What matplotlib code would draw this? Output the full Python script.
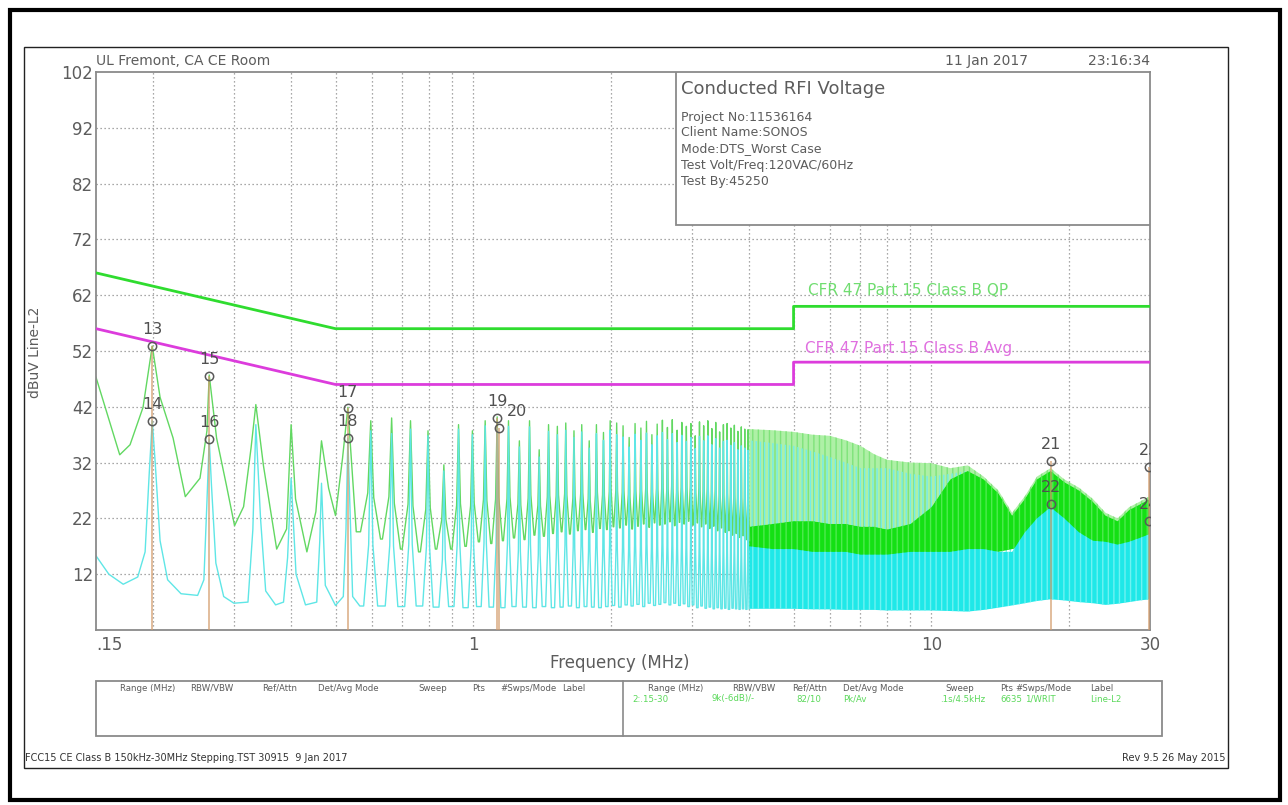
import numpy as np
import matplotlib
matplotlib.use("Agg")
import matplotlib.pyplot as plt
from matplotlib.patches import Rectangle
from matplotlib.ticker import FixedLocator, NullFormatter

plt.rcParams["hatch.linewidth"] = 1.0

# ---------------- data ----------------
# limit lines (MHz, dBuV)
qp_f = [0.15, 0.5, 5.0, 5.0, 30.0]
qp_db = [66.0, 56.0, 56.0, 60.0, 60.0]
av_f = [0.15, 0.5, 5.0, 5.0, 30.0]
av_db = [56.0, 46.0, 46.0, 50.0, 50.0]

# peak-detector trace, low band vertices
pk_low_f = [0.150, 0.169, 0.178, 0.190, 0.199, 0.207, 0.221, 0.235, 0.253, 0.262,
            0.265, 0.275, 0.289, 0.301, 0.315, 0.327, 0.335, 0.348, 0.372, 0.391,
            0.400, 0.409, 0.433, 0.453, 0.466, 0.483, 0.500, 0.518, 0.532, 0.555]
pk_low_db = [47.3, 33.4, 35.2, 41.9, 52.9, 43.7, 36.4, 25.9, 29.2, 37.7,
             47.7, 36.4, 27.9, 20.7, 24.1, 34.6, 42.4, 31.5, 16.5, 20.1,
             38.8, 25.5, 16.0, 23.2, 35.9, 27.4, 22.5, 32.8, 41.9, 19.6]

# average-detector trace, low band vertices
av_low_f = [0.150, 0.160, 0.172, 0.185, 0.192, 0.196, 0.199, 0.202, 0.207, 0.215,
            0.230, 0.250, 0.258, 0.262, 0.265, 0.268, 0.274, 0.285, 0.300, 0.322,
            0.330, 0.335, 0.343, 0.352, 0.370, 0.385, 0.393, 0.400, 0.410, 0.430,
            0.455, 0.462, 0.466, 0.475, 0.500, 0.520, 0.527, 0.532, 0.545, 0.565]
av_low_db = [15.3, 12.0, 10.2, 11.5, 16.0, 30.0, 39.5, 32.0, 18.0, 11.0,
             8.5, 8.2, 11.0, 25.0, 36.2, 28.0, 14.0, 8.0, 6.8, 7.0,
             20.0, 38.8, 22.0, 9.0, 6.5, 7.0, 15.0, 29.2, 12.0, 6.5,
             7.0, 18.0, 28.3, 10.0, 6.4, 8.0, 20.0, 36.4, 8.0, 6.3]

# harmonic lines 0.6 - 4 MHz
harm_f = [0.597, 0.663, 0.729, 0.796, 0.862, 0.928, 0.995, 1.061, 1.127, 1.193,
          1.260, 1.326, 1.392, 1.459, 1.525, 1.591, 1.658, 1.724, 1.790, 1.856,
          1.923, 1.989, 2.055, 2.122, 2.188, 2.254, 2.321, 2.387, 2.453, 2.519,
          2.586, 2.652, 2.718, 2.785, 2.851, 2.917, 2.984, 3.050, 3.116, 3.182,
          3.249, 3.315, 3.381, 3.448, 3.514, 3.580, 3.647, 3.713, 3.779, 3.845,
          3.912, 3.978]
harm_pk_db = [39.5, 40.0, 39.5, 37.7, 31.6, 38.8, 37.7, 39.5, 40.2, 39.5,
              35.9, 39.5, 34.3, 38.8, 38.5, 39.1, 37.7, 38.8, 35.9, 38.8,
              37.4, 39.5, 39.1, 38.6, 36.5, 39.0, 38.2, 39.4, 37.0, 38.9,
              39.6, 38.3, 39.7, 37.8, 39.2, 38.5, 39.0, 36.8, 39.3, 38.6,
              39.5, 38.1, 39.2, 37.5, 38.8, 39.0, 38.2, 38.7, 37.6, 38.4,
              38.0, 37.9]
harm_pk_floor = [18.3, 16.5, 16.0, 16.5, 16.5, 17.0, 17.8, 17.5, 18.0, 18.5,
                 18.2, 19.0, 18.8, 19.3, 19.6, 19.2, 19.8, 20.0, 19.5, 20.2,
                 20.0, 20.5, 20.3, 20.8, 20.1, 20.6, 21.0, 20.4, 21.2, 20.8,
                 21.0, 21.4, 20.7, 21.3, 21.0, 21.5, 20.8, 21.2, 20.5, 21.0,
                 20.2, 20.6, 19.8, 20.3, 19.5, 19.8, 19.0, 19.3, 18.6, 18.9,
                 18.2, 18.0]
harm_av_db = [37.7, 37.2, 38.0, 36.8, 30.5, 38.0, 37.0, 38.6, 38.2, 38.5,
              34.8, 38.4, 33.0, 37.6, 37.0, 37.8, 36.5, 37.5, 34.6, 37.2,
              36.0, 37.8, 37.0, 36.6, 34.8, 37.1, 36.0, 37.3, 35.2, 36.8,
              37.4, 36.1, 37.2, 35.6, 36.9, 35.8, 36.5, 34.5, 36.7, 35.9,
              36.8, 35.2, 36.3, 34.6, 35.8, 36.0, 35.1, 35.6, 34.3, 35.0,
              34.6, 34.2]
harm_av_floor = [6.3, 6.2, 6.3, 6.1, 6.2, 6.0, 6.2, 6.1, 6.0, 6.2,
                 6.1, 6.0, 6.2, 6.0, 6.1, 6.3, 6.0, 6.2, 6.1, 6.0,
                 6.2, 6.4, 6.1, 6.5, 6.3, 6.6, 6.2, 6.8, 6.4, 6.6,
                 6.9, 6.5, 6.8, 6.4, 6.7, 6.2, 6.5, 6.0, 6.3, 5.9,
                 6.1, 5.8, 6.0, 5.8, 5.9, 5.7, 5.9, 5.8, 5.7, 5.8,
                 5.7, 5.8]

# dense band 4 - 30 MHz (envelopes)
band_f = [4.0, 4.5, 5.0, 5.5, 6.0, 6.5, 7.0, 7.5, 8.0, 9.0, 10.0, 11.0, 12.0, 13.0,
          14.0, 15.0, 16.0, 17.0, 18.2, 19.5, 21.0, 22.5, 24.0, 25.5, 27.0, 28.5, 30.0]
pk_band_top = [38.0, 37.8, 37.5, 37.0, 36.8, 36.0, 35.0, 33.5, 32.5, 32.0, 31.9, 31.0, 31.5, 29.5,
               27.0, 23.0, 26.0, 29.5, 31.0, 29.0, 27.5, 25.5, 23.0, 22.0, 24.0, 25.0, 26.0]
pk_band_core = [20.5, 21.0, 21.5, 21.5, 21.0, 21.0, 20.5, 20.5, 20.0, 21.0, 24.0, 29.0, 30.5, 29.0,
                26.5, 22.5, 25.5, 29.0, 30.5, 28.5, 27.0, 25.0, 22.5, 21.5, 23.5, 24.5, 25.5]
pk_band_floor = [16.5, 16.2, 16.0, 15.8, 15.8, 15.5, 15.3, 15.3, 15.3, 15.2, 15.5, 15.8, 16.0, 16.0,
                 16.0, 16.5, 17.0, 17.5, 18.0, 17.5, 17.0, 16.8, 16.5, 16.3, 16.5, 17.0, 17.5]
av_band_top = [36.0, 35.5, 35.0, 34.0, 33.0, 32.0, 31.0, 31.0, 31.0, 30.0, 29.5, 30.0, 30.5, 28.0,
               22.0, 16.5, 20.0, 22.5, 24.6, 22.5, 20.0, 18.5, 18.3, 17.8, 18.3, 19.0, 19.6]
av_band_core = [17.0, 16.5, 16.5, 16.0, 16.0, 16.0, 15.5, 15.5, 15.5, 16.0, 16.0, 16.0, 16.5, 16.5,
                16.0, 16.0, 19.5, 22.0, 24.0, 22.0, 19.5, 18.0, 17.8, 17.3, 17.8, 18.5, 19.2]
av_band_floor = [5.8, 5.8, 5.8, 5.7, 5.7, 5.6, 5.6, 5.6, 5.5, 5.5, 5.5, 5.4, 5.3, 5.6,
                 6.0, 6.4, 6.8, 7.2, 7.5, 7.3, 7.0, 6.8, 6.5, 6.7, 7.0, 7.3, 7.5]

# markers
mk_labels = ["13", "14", "15", "16", "17", "18", "19", "20", "21", "22", "23", "24"]
mk_f = [0.199, 0.199, 0.265, 0.265, 0.532, 0.532, 1.127, 1.135, 18.2, 18.2, 29.8, 29.8]
mk_db = [52.9, 39.5, 47.6, 36.2, 41.7, 36.4, 40.0, 38.2, 32.3, 24.6, 31.3, 21.6]

x_ticks = [0.15, 1, 10, 30]
x_ticklabels = [".15", "1", "10", "30"]
x_grid = [0.2, 0.3, 0.4, 0.5, 0.6, 0.7, 0.8, 0.9, 1, 2, 3, 4, 5, 6, 7, 8, 9, 10, 20]
y_ticks = [12, 22, 32, 42, 52, 62, 72, 82, 92, 102]

info_title = "Conducted RFI Voltage"
info_lines = ["Project No:11536164", "Client Name:SONOS", "Mode:DTS_Worst Case",
              "Test Volt/Freq:120VAC/60Hz", "Test By:45250"]
tbl_head = ["Range (MHz)", "RBW/VBW", "Ref/Attn", "Det/Avg Mode", "Sweep", "Pts",
            "#Swps/Mode", "Label"]
tbl_vals = ["2:.15-30", "9k(-6dB)/-", "82/10", "Pk/Av", ".1s/4.5kHz", "6635", "1/WRIT",
            "Line-L2"]

# ---------------- drawing ----------------
W, H = 1288, 805
fig = plt.figure(figsize=(W / 100, H / 100), dpi=100)
fig.patch.set_facecolor("white")


def fx(x):
    return x / W


def fy(y):
    return 1 - y / H


TXT = "#5c5c5c"

ax = fig.add_axes([fx(96), fy(630), (1150 - 96) / W, (630 - 72) / H])
ax.set_xscale("log")
ax.set_xlim(0.15, 30)
ax.set_ylim(2, 102)

ax.xaxis.set_major_locator(FixedLocator(x_ticks))
ax.set_xticklabels(x_ticklabels)
ax.xaxis.set_minor_locator(FixedLocator(x_grid))
ax.xaxis.set_minor_formatter(NullFormatter())
ax.set_yticks(y_ticks)
ax.tick_params(axis="both", which="both", length=0, labelsize=12, labelcolor=TXT)
ax.tick_params(axis="x", pad=4)
ax.tick_params(axis="y", pad=2)
for lab in ax.get_xticklabels():
    if lab.get_text() == ".15":
        lab.set_ha("left")
for sp in ax.spines.values():
    sp.set_color("#8a8a8a")
    sp.set_linewidth(1.3)

grid_kw = dict(color="#8c8c8c", lw=0.9, ls=(0, (1, 2.2)), zorder=1)
for g in x_grid:
    ax.axvline(g, **grid_kw)
for g in y_ticks[:-1]:
    ax.axhline(g, **grid_kw)


def comb(lead_f, lead_db, pk_f, pk_db, floor_db, hw):
    """Append narrow spectral lines (peak, then floor) to a lead-in polyline."""
    xs = list(lead_f)
    ys = list(lead_db)
    prev = ys[-1]
    for f, p, v in zip(pk_f, pk_db, floor_db):
        xs += [f - hw, f - 0.3 * hw, f, f + 0.3 * hw, f + hw]
        ys += [prev, prev + 0.35 * (p - prev), p, v + 0.35 * (p - v), v]
        prev = v
    return np.array(xs), np.array(ys)


gx, gy = comb(pk_low_f, pk_low_db, harm_f, harm_pk_db, harm_pk_floor, 0.030)
cx, cy = comb(av_low_f, av_low_db, harm_f, harm_av_db, harm_av_floor, 0.021)

# dense high-frequency band: envelopes filled, streak texture from hatching
bf = np.array(band_f)
ax.fill_between(bf, pk_band_core, pk_band_top, facecolor="#aef0a6", edgecolor="#7fe37a",
                hatch="|||", lw=0, zorder=2)
ax.fill_between(bf, av_band_core, av_band_top, facecolor="none", edgecolor="#74ecea",
                hatch="||||", lw=0, zorder=2.1)
ax.fill_between(bf, pk_band_floor, pk_band_core, facecolor="#14e014", edgecolor="#4fea4f",
                hatch="|||", lw=0, zorder=2.2)
ax.fill_between(bf, av_band_floor, av_band_core, facecolor="#1fe8e8", edgecolor="#6ff2f2",
                hatch="|||", lw=0, zorder=2.3)

ax.plot(gx, gy, color="#62d862", lw=1.0, zorder=2.4)
ax.plot(cx, cy, color="#5fe6e6", lw=1.0, zorder=2.5)

# limit lines
ax.plot(qp_f, qp_db, color="#2fdc2f", lw=2.0, zorder=3)
ax.plot(av_f, av_db, color="#dc3cdc", lw=2.0, zorder=3)
ax.text(5.38, 62.9, "CFR 47 Part 15 Class B QP", color="#70dd70", fontsize=11,
        va="center", ha="left", zorder=3)
ax.text(5.3, 52.4, "CFR 47 Part 15 Class B Avg", color="#e070e0", fontsize=11,
        va="center", ha="left", zorder=3)

# marker stems, circles and labels
stem_f, stem_top = [], []
for f, v in zip(mk_f, mk_db):
    if f in stem_f:
        i = stem_f.index(f)
        stem_top[i] = max(stem_top[i], v)
    else:
        stem_f.append(f)
        stem_top.append(v)
ax.vlines(stem_f, 2, stem_top, color="#d39c6c", lw=1.1, alpha=0.85, zorder=3.5)
ax.plot(mk_f, mk_db, ls="none", marker="o", ms=6, mfc="none", mec="#5a5a5a",
        mew=1.1, zorder=4)
for lab, f, v in zip(mk_labels, mk_f, mk_db):
    dx, ha = 0, "center"
    if lab == "20":
        # keep the crowded pair 19/20 readable
        dx, ha = 6, "left"
    ax.annotate(lab, (f, v + 2.9), xytext=(dx, 0), textcoords="offset points",
                color="#505050", fontsize=11.5, ha=ha, va="center", zorder=4,
                annotation_clip=False, clip_on=True)

# information box
ax.add_patch(Rectangle(((676 - 96) / 1054, (630 - 225) / 558), (1150 - 676) / 1054,
                       (225 - 72) / 558, transform=ax.transAxes, facecolor="white",
                       edgecolor="#8a8a8a", lw=1.3, zorder=5))
fig.text(fx(681), fy(89), info_title, fontsize=13, color=TXT, va="center", ha="left")
for i, line in enumerate(info_lines):
    fig.text(fx(681), fy(117 + 16 * i), line, fontsize=9, color=TXT, va="center",
             ha="left")

# headers and axis titles
fig.text(fx(96), fy(61), "UL Fremont, CA CE Room", fontsize=10, color=TXT,
         va="center", ha="left")
fig.text(fx(945), fy(61), "11 Jan 2017", fontsize=10, color=TXT, va="center", ha="left")
fig.text(fx(1150), fy(61), "23:16:34", fontsize=10, color=TXT, va="center", ha="right")
fig.text(fx(35), fy(352), "dBuV Line-L2", fontsize=10, color=TXT, rotation=90,
         va="center", ha="center")
fig.text(fx(620), fy(663), "Frequency (MHz)", fontsize=12, color=TXT, va="center",
         ha="center")

# settings table
fig.add_artist(Rectangle((fx(96), fy(736)), (1162 - 96) / W, (736 - 681) / H,
                         transform=fig.transFigure, facecolor="none",
                         edgecolor="#8a8a8a", lw=1.3))
fig.add_artist(plt.Line2D([fx(623), fx(623)], [fy(681), fy(736)],
                          transform=fig.transFigure, color="#8a8a8a", lw=1.2))
left_x = [120, 190, 262, 318, 418, 472, 500, 562]
right_x = [648, 732, 792, 843, 945, 1000, 1015, 1090]
val_x = [632, 712, 796, 843, 940, 1000, 1025, 1090]
for h, xl, xr in zip(tbl_head, left_x, right_x):
    fig.text(fx(xl), fy(688), h, fontsize=6.2, color=TXT, va="center", ha="left")
    fig.text(fx(xr), fy(688), h, fontsize=6.2, color=TXT, va="center", ha="left")
for v, xv in zip(tbl_vals, val_x):
    fig.text(fx(xv), fy(699), v, fontsize=6.2, color="#5ad85a", va="center", ha="left")

# footer
fig.text(fx(25), fy(758), "FCC15 CE Class B 150kHz-30MHz Stepping.TST 30915  9 Jan 2017",
         fontsize=7, color="#333333", va="center", ha="left")
fig.text(fx(1225), fy(758), "Rev 9.5 26 May 2015", fontsize=7, color="#333333",
         va="center", ha="right")

# page frames
fig.add_artist(Rectangle((fx(24), fy(768)), (1228 - 24) / W, (768 - 47) / H,
                         transform=fig.transFigure, facecolor="none",
                         edgecolor="#222222", lw=1.0))
fig.add_artist(Rectangle((fx(10), fy(800)), (1280 - 10) / W, (800 - 10) / H,
                         transform=fig.transFigure, facecolor="none",
                         edgecolor="black", lw=3.0))

fig.savefig("out.png", dpi=100, facecolor="white")
